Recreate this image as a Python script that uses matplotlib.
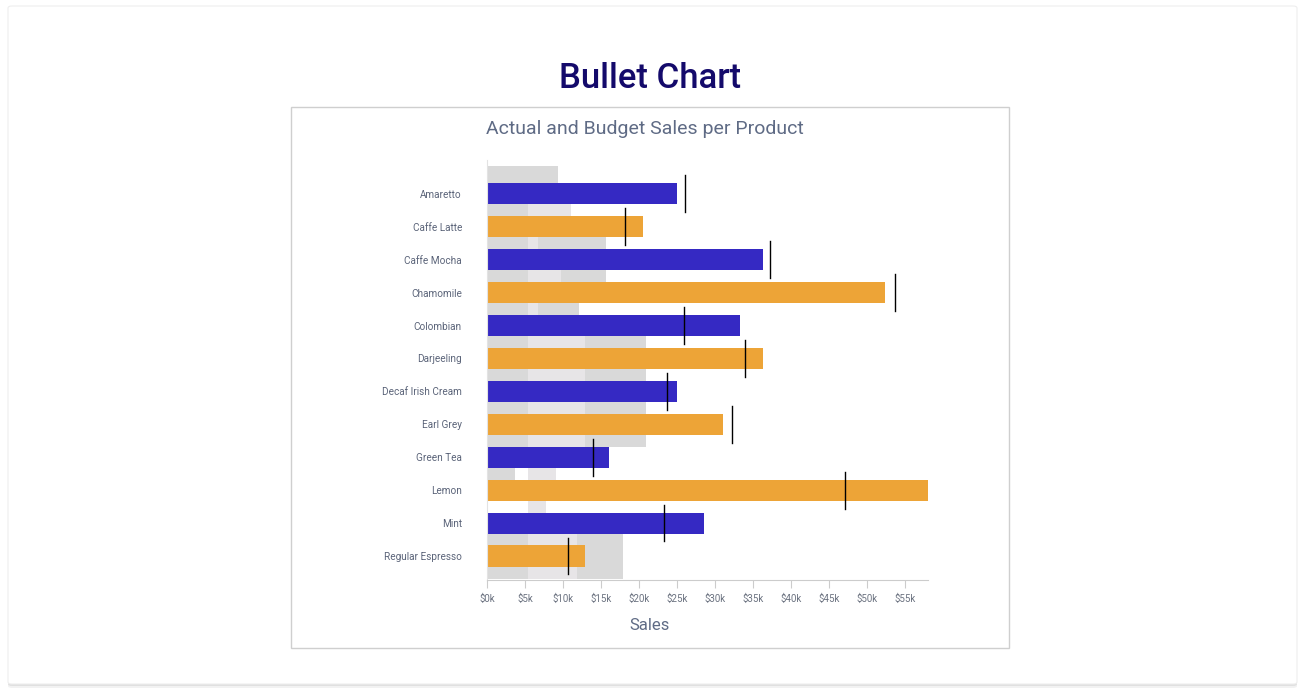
import matplotlib.pyplot as plt
from matplotlib.patches import FancyBboxPatch, Rectangle
from matplotlib.ticker import FuncFormatter

plt.rcParams['font.family'] = ['Roboto', 'DejaVu Sans']

# data (thousands of $)
products = ['Amaretto', 'Caffe Latte', 'Caffe Mocha', 'Chamomile', 'Colombian', 'Darjeeling',
            'Decaf Irish Cream', 'Earl Grey', 'Green Tea', 'Lemon', 'Mint', 'Regular Espresso']
actual = [25.0, 20.5, 36.3, 52.4, 33.3, 36.3, 25.0, 31.1, 16.1, 58.0, 28.6, 12.9]
budget = [26.1, 18.2, 37.2, 53.7, 25.9, 33.9, 23.7, 32.2, 13.9, 47.1, 23.3, 10.7]

# qualitative ranges behind each bar
range_low = [9.3, 5.4, 5.4, 5.4, 3.7, 5.4, 3.7, 5.4, 3.7, 0.0, 0.0, 5.4]
range_mid = [0.0, 11.0, 6.7, 9.7, 6.7, 12.9, 6.7, 12.9, 9.1, 7.8, 6.7, 11.8]
range_high = [0.0, 0.0, 15.7, 12.1, 12.1, 20.9, 0.0, 20.9, 0.0, 0.0, 0.0, 17.9]
mid_start = 5.4

bar_colors = ['#3529c3', '#eda437']
dark_grey = '#d9d9d9'
light_grey = '#e7e5e7'
text_col = '#5b6479'

fig = plt.figure(figsize=(13.1, 6.98), dpi=100)
fig.patch.set_facecolor('white')

# card with soft shadow
for off, a in [(4, 0.05), (2, 0.07)]:
    fig.patches.append(FancyBboxPatch((8 / 1310, (14 - off) / 698), 1289 / 1310, 678 / 698,
                                      boxstyle='round,pad=0,rounding_size=0.003',
                                      transform=fig.transFigure, fc='black', ec='none',
                                      alpha=a, zorder=0))
fig.patches.append(FancyBboxPatch((8 / 1310, 14 / 698), 1289 / 1310, 678 / 698,
                                  boxstyle='round,pad=0,rounding_size=0.003',
                                  transform=fig.transFigure, fc='white', ec='#eeeeee',
                                  lw=0.8, zorder=0.5))
# inner chart frame
fig.patches.append(Rectangle((291 / 1310, 1 - 648 / 698), 718 / 1310, 541 / 698,
                             transform=fig.transFigure, fc='white', ec='#cfcfcf',
                             lw=1, zorder=0.6))

ax = fig.add_axes([487 / 1310, 1 - 580 / 698, 441 / 1310, 420 / 698])
ax.set_facecolor('none')
ax.set_zorder(2)

ypos = list(range(len(products)))
band_top = 0.85
band_h = 1.55
for i, y in enumerate(ypos):
    y0 = y - band_top
    if range_low[i] > 0:
        ax.barh(y0, range_low[i], height=band_h, align='edge', color=dark_grey, zorder=1)
    if range_mid[i] > mid_start:
        ax.barh(y0, range_mid[i] - mid_start, left=mid_start, height=band_h, align='edge',
                color=light_grey, zorder=1)
    if range_high[i] > range_mid[i]:
        ax.barh(y0, range_high[i] - range_mid[i], left=range_mid[i], height=band_h,
                align='edge', color=dark_grey, zorder=1)

ax.barh(ypos, actual, height=0.64, color=[bar_colors[i % 2] for i in ypos], zorder=2)
for y, b in zip(ypos, budget):
    ax.plot([b, b], [y - 0.56, y + 0.56], color='black', lw=1, zorder=3)

ax.set_xlim(0, 58)
ax.set_ylim(11.73, -1.03)
ax.set_xticks(range(0, 60, 5))
ax.xaxis.set_major_formatter(FuncFormatter(lambda v, p: f'${int(v)}k'))
ax.tick_params(axis='x', length=6, color='#cccccc', labelsize=7, labelcolor='#6b7280', pad=4)
ax.set_yticks(ypos)
ax.set_yticklabels(products)
ax.tick_params(axis='y', length=0, labelsize=7.2, labelcolor=text_col, pad=18)
for s in ['top', 'right']:
    ax.spines[s].set_visible(False)
ax.spines['left'].set_color('#e3e3e3')
ax.spines['bottom'].set_color('#cccccc')

fig.text(650 / 1310, 1 - 78 / 698, 'Bullet Chart', ha='center', va='center',
         fontsize=25, color='#140a6b', fontweight='medium')
fig.text(645 / 1310, 1 - 129 / 698, 'Actual and Budget Sales per Product', ha='center',
         va='center', fontsize=14, color='#5f6b85')
fig.text(650 / 1310, 1 - 625 / 698, 'Sales', ha='center', va='center', fontsize=12,
         color='#5f6b85')

fig.savefig('out.png', dpi=100)
